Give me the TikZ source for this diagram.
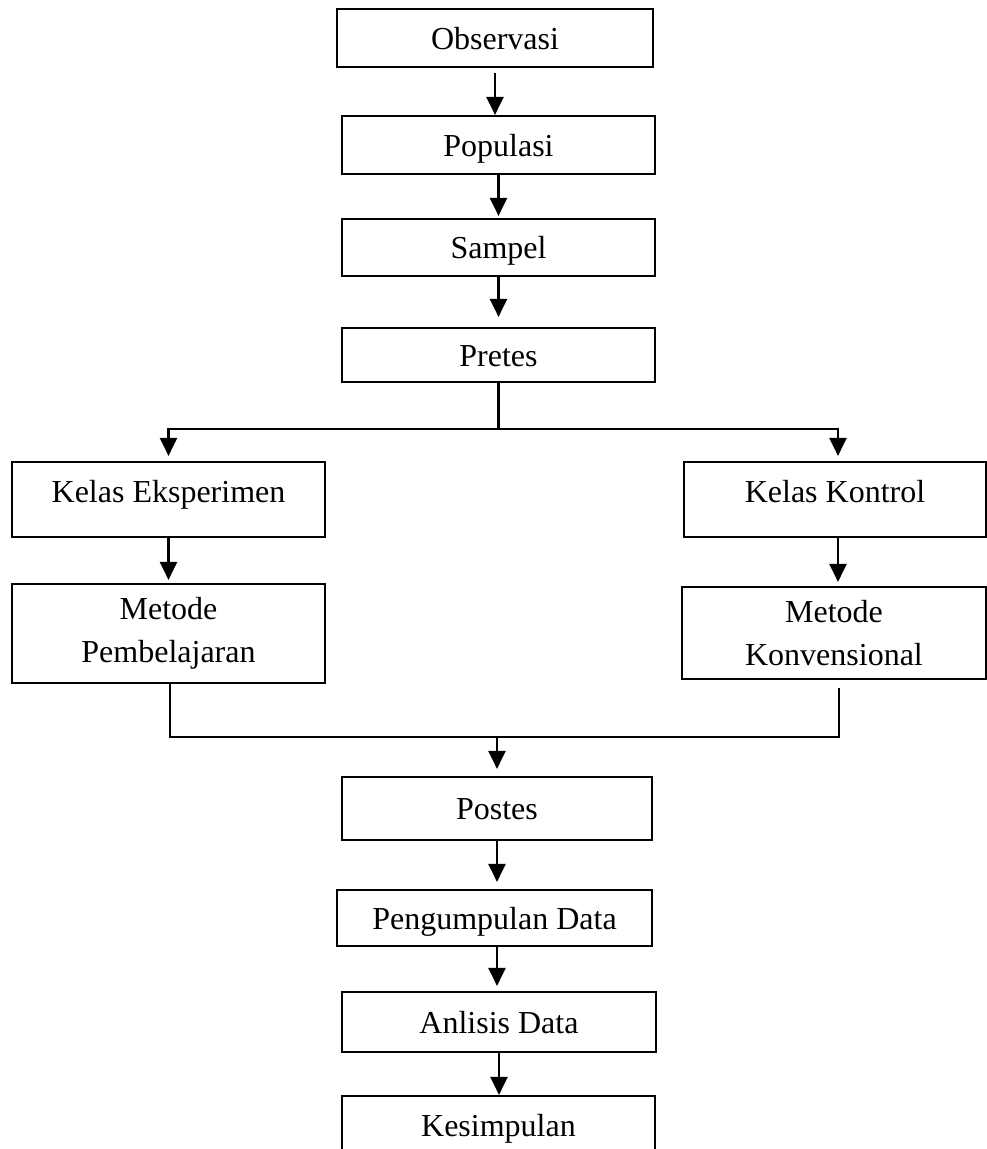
\documentclass[tikz,border=0pt]{standalone}
\usepackage{fontspec}
\setmainfont{Liberation Serif}
\usetikzlibrary{arrows.meta}
\begin{document}
\begin{tikzpicture}[x=1pt,y=-1pt,
  box/.style={draw, line width=2.2pt, inner sep=0pt, align=center,
    font=\fontsize{32}{43}\selectfont},
  one/.style={box, text height=22pt, text depth=0pt},
  kel/.style={box, text height=22pt, text depth=17pt},
  conn/.style={line width=2.4pt},
  arr/.style={conn, -{Triangle[length=18pt,width=17pt]}}]
\useasboundingbox (0,0) rectangle (987,1149);
\clip (0,0) rectangle (987,1149);
\fill[white] (0,0) rectangle (987,1149);
% nodes
\node[one, minimum width=316pt, minimum height=58pt] (obs) at (495,38) {Observasi};
\node[one, minimum width=313pt, minimum height=58pt] (pop) at (498.5,145) {Populasi};
\node[one, minimum width=313pt, minimum height=57pt] (sam) at (498.5,247.5) {Sampel};
\node[one, minimum width=313pt, minimum height=54pt] (pre) at (498.5,355) {Pretes};
\node[kel, minimum width=313pt, minimum height=75pt] (ke) at (168.5,499.5) {Kelas Eksperimen};
\node[kel, minimum width=302pt, minimum height=75pt] (kk) at (835,499.5) {Kelas Kontrol};
\node[box, minimum width=313pt, minimum height=99pt] (mp) at (168.5,633.5) {Metode\\Pembelajaran};
\node[box, minimum width=304pt, minimum height=92pt] (mk) at (834,633) {Metode\\Konvensional};
\node[one, minimum width=310pt, minimum height=63pt] (pos) at (497,808.5) {Postes};
\node[one, minimum width=315pt, minimum height=56pt] (pd) at (494.5,918) {Pengumpulan Data};
\node[one, minimum width=314pt, minimum height=60pt] (ad) at (499,1022) {Anlisis Data};
\node[one, minimum width=313pt, minimum height=58pt] (kes) at (498.5,1125) {Kesimpulan};
% junction points
\coordinate (bl) at (168,429);
\coordinate (br) at (838,429);
\coordinate (ml) at (170,737);
\coordinate (mr) at (839,737);
% connectors
\draw[arr] ([yshift=-5pt]obs.south) -- (obs.south |- pop.north);
\draw[arr] (pop.south) -- ([yshift=2pt]pop.south |- sam.north);
\draw[arr] (sam.south) -- ([yshift=10pt]sam.south |- pre.north);
\draw[conn] (pre.south) -- (pre.south |- bl);
\draw[arr] (bl -| pre.south) -| ([yshift=5pt]ke.north);
\draw[arr] (bl -| pre.south) -| ([yshift=5pt]kk.north -| br);
\draw[arr] (ke.south) -- ([yshift=3pt]mp.north);
\draw[arr] (ke.south -| br) -- ([yshift=4pt]mk.north -| br);
\draw[conn] (mp.south -| ml) -- (ml) -- (mr) -- ([yshift=-8pt]mk.south -| mr);
\draw[arr] (ml -| pos.north) -- ([yshift=7pt]pos.north);
\draw[arr] (pos.south) -- ([yshift=7pt]pos.south |- pd.north);
\draw[arr] (pd.south -| pos.south) -- ([yshift=5pt]ad.north -| pos.south);
\draw[arr] (ad.south) -- (ad.south |- kes.north);
\end{tikzpicture}
\end{document}
